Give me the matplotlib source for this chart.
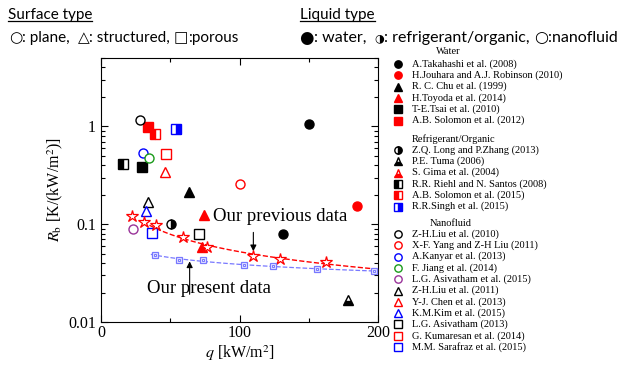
import numpy as np
import matplotlib
matplotlib.use("Agg")
import matplotlib.pyplot as plt
import matplotlib.ticker as tick
from matplotlib.lines import Line2D

plt.rcParams["font.family"] = ["Liberation Serif", "DejaVu Serif"]
plt.rcParams["mathtext.fontset"] = "stix"

# ---- literature data (q [kW/m2], Rb [K/(kW/m2)]) ----
WATER_LABELS = [
    "A.Takahashi et al. (2008)",
    "H.Jouhara and A.J. Robinson (2010)",
    "R. C. Chu et al. (1999)",
    "H.Toyoda et al. (2014)",
    "T-E.Tsai et al. (2010)",
    "A.B. Solomon et al. (2012)",
]
WATER_Q = [[150, 131.5], [185], [63.5], [73, 74.5], [29.5], [33.6]]
WATER_R = [[1.06, 0.079], [0.153], [0.213], [0.058, 0.123], [0.386], [0.98]]

REFRIG_LABELS = [
    "Z.Q. Long and P.Zhang (2013)",
    "P.E. Tuma (2006)",
    "S. Gima et al. (2004)",
    "R.R. Riehl and N. Santos (2008)",
    "A.B. Solomon et al. (2015)",
    "R.R.Singh et al. (2015)",
]
REFRIG_Q = [[50.5], [178], [], [16], [39], [54]]
REFRIG_R = [[0.10], [0.0166], [], [0.41], [0.83], [0.95]]

NANO_LABELS = [
    "Z-H.Liu et al. (2010)",
    "X-F. Yang and Z-H Liu (2011)",
    "A.Kanyar et al. (2013)",
    "F. Jiang et al. (2014)",
    "L.G. Asivatham et al. (2015)",
    "Z-H.Liu et al. (2011)",
    "Y-J. Chen et al. (2013)",
    "K.M.Kim et al. (2015)",
    "L.G. Asivatham (2013)",
    "G. Kumaresan et al. (2014)",
    "M.M. Sarafraz et al. (2015)",
]
NANO_Q = [[28], [100], [30.5], [34.3], [22.8], [33.6], [46], [32.4], [71], [46.8], [36.5]]
NANO_R = [[1.17], [0.26], [0.53], [0.47], [0.089], [0.169], [0.34], [0.136], [0.079], [0.52], [0.082]]

# ---- our data ----
Q_PREV = [22.3, 30.7, 39.6, 59.5, 76.8, 109.6, 129.5, 162.4]
R_PREV = [0.121, 0.106, 0.098, 0.074, 0.058, 0.0476, 0.044, 0.0408]
Q_PRES = [39, 56.3, 73.9, 103, 124, 156, 197]
R_PRES = [0.0487, 0.043, 0.0428, 0.0383, 0.0372, 0.0348, 0.0333]

# ---- styles: (marker, colour, fillstyle) ----
RED, BLUE, GREEN, PURPLE = "#ff0000", "#0000ff", "#1a9a1a", "#993399"
WATER_STYLE = [("o", "k", "full"), ("o", RED, "full"), ("^", "k", "full"),
               ("^", RED, "full"), ("s", "k", "full"), ("s", RED, "full")]
REFRIG_STYLE = [("o", "k", "right"), ("^", "k", "bottom"), ("^", RED, "bottom"),
                ("s", "k", "left"), ("s", RED, "left"), ("s", BLUE, "right")]
NANO_STYLE = [("o", "k", "none"), ("o", RED, "none"), ("o", BLUE, "none"),
              ("o", GREEN, "none"), ("o", PURPLE, "none"), ("^", "k", "none"),
              ("^", RED, "none"), ("^", BLUE, "none"), ("s", "k", "none"),
              ("s", RED, "none"), ("s", BLUE, "none")]


def marker_kw(style, size):
    m, c, fs = style
    kw = dict(marker=m, color=c, markeredgecolor=c, markersize=size,
              markeredgewidth=1.0, linestyle="none")
    if fs == "none":
        kw.update(markerfacecolor="white")
    elif fs == "full":
        kw.update(markerfacecolor=c)
    else:
        kw.update(markerfacecolor=c, fillstyle=fs, markerfacecoloralt="white")
    return kw


fig = plt.figure(figsize=(6.3, 3.65), dpi=100)
ax = fig.add_axes([101 / 630, 1 - 322 / 365, 277 / 630, 264 / 365])

groups = [(WATER_Q, WATER_R, WATER_STYLE), (REFRIG_Q, REFRIG_R, REFRIG_STYLE),
          (NANO_Q, NANO_R, NANO_STYLE)]
for qs, rs, styles in groups:
    for q, r, st in zip(qs, rs, styles):
        if q:
            ax.plot(q, r, zorder=4, **marker_kw(st, 6.5))

# previous data: stars + power-law trend
ax.plot(Q_PREV, R_PREV, marker="*", linestyle="none", markersize=9,
        markerfacecolor="white", markeredgecolor=RED, markeredgewidth=0.9, zorder=5)
p = np.polyfit(np.log(Q_PREV), np.log(R_PREV), 1)
qf = np.linspace(35, 200, 100)
ax.plot(qf, np.exp(np.polyval(p, np.log(qf))), "--", color=RED, lw=1.0, zorder=3)

# present data: small squares + trend
LBLUE = "#7878ff"
p2 = np.polyfit(np.log(Q_PRES), np.log(R_PRES), 1)
qf2 = np.linspace(36, 200, 100)
ax.plot(qf2, np.exp(np.polyval(p2, np.log(qf2))), "--", color=LBLUE, lw=0.9, zorder=3)
ax.plot(Q_PRES, R_PRES, marker="s", linestyle="none", markersize=5,
        markerfacecolor="#e8e8ff", markeredgecolor=LBLUE, markeredgewidth=0.9, zorder=5)
ax.plot(Q_PRES, R_PRES, marker="s", linestyle="none", markersize=1.8,
        markerfacecolor="none", markeredgecolor=LBLUE, markeredgewidth=0.7, zorder=6)

ax.set_yscale("log")
ax.set_xlim(0, 200)
ax.set_ylim(0.01, 5)
ax.xaxis.set_major_locator(tick.MultipleLocator(100))
ax.xaxis.set_minor_locator(tick.MultipleLocator(50))
ax.yaxis.set_major_locator(tick.LogLocator(base=10))
ax.yaxis.set_major_formatter(tick.FuncFormatter(lambda v, pos: f"{v:g}"))
ax.yaxis.set_minor_formatter(tick.NullFormatter())
ax.tick_params(which="both", direction="in", top=True, right=True, labelsize=11.5, width=0.8)
ax.tick_params(which="major", length=5)
ax.tick_params(which="minor", length=3)
ax.tick_params(axis="x", pad=2)
for s in ax.spines.values():
    s.set_linewidth(0.8)
ax.set_xlabel(r"$q$ [kW/m$^2$]", fontsize=11.5, labelpad=2)
ax.set_ylabel(r"$R_\mathrm{b}$ [K/(kW/m$^2$)]", fontsize=11.5, labelpad=2)

# annotations
ax.annotate("", xy=(110, 0.0495), xytext=(110, 0.088),
            arrowprops=dict(arrowstyle="-|>", color="k", lw=0.8, mutation_scale=9))
ax.text(81, 0.12, "Our previous data", fontsize=13.5, va="center", ha="left")
ax.annotate("", xy=(64, 0.0445), xytext=(64, 0.018),
            arrowprops=dict(arrowstyle="-|>", color="k", lw=0.8, mutation_scale=9))
ax.text(33, 0.0218, "Our present data", fontsize=13.5, va="center", ha="left")

# ---- legend block (pixel coordinates) ----
lay = fig.add_axes([0, 0, 1, 1], zorder=-1)
lay.set_xlim(0, 630)
lay.set_ylim(365, 0)
lay.axis("off")

sections = [("Water", 436, 52, 64, WATER_LABELS, WATER_STYLE),
            ("Refrigerant/Organic", 412, 139, 150, REFRIG_LABELS, REFRIG_STYLE),
            ("Nanofluid", 430, 223, 234, NANO_LABELS, NANO_STYLE)]
for title, tx, ty, y0, labels, styles in sections:
    lay.text(tx, ty, title, fontsize=7.5, va="center", ha="left")
    for i, (lab, st) in enumerate(zip(labels, styles)):
        y = y0 + i * 11.3
        lay.plot([398], [y], **marker_kw(st, 5.3))
        lay.text(412, y, lab, fontsize=7.5, va="center", ha="left")

# ---- header ----
SANS = ["Lato", "DejaVu Sans"]
SYM = ["DejaVu Sans"]
renderer = fig.canvas.get_renderer()


def run_text(x_px, y_px, parts):
    """Draw text segments one after another; returns the created texts."""
    out = []
    for s, fam, size in parts:
        t = fig.text(x_px / 630, 1 - y_px / 365, s, family=fam, fontsize=size, va="center")
        x_px += t.get_window_extent(renderer).width
        out.append(t)
    return out


h1 = run_text(8, 15, [("Surface type", SANS, 11)])[0]
run_text(9, 38, [("\u25cb", SYM, 11), (": plane,  ", SANS, 11), ("\u25b3", SYM, 11),
                 (": structured, ", SANS, 11), ("\u25a1", SYM, 11), (":porous", SANS, 11)])
h2 = run_text(300, 15, [("Liquid type", SANS, 11)])[0]
run_text(299, 38, [("\u25cf", SYM, 12), (": water,  ", SANS, 11.5), ("\u25d1", SYM, 8),
                   (": refrigerant/organic, ", SANS, 11.5), ("\u25cb", SYM, 11.5),
                   (":nanofluid", SANS, 11.5)])

inv = fig.transFigure.inverted()
for h in (h1, h2):
    bb = h.get_window_extent(renderer)
    (x0, y0), (x1, _) = inv.transform([(bb.x0, bb.y0 + 1), (bb.x1, bb.y0)])
    fig.add_artist(Line2D([x0, x1], [y0, y0], color="k", lw=0.9, transform=fig.transFigure))

fig.savefig("out.png", dpi=100)
